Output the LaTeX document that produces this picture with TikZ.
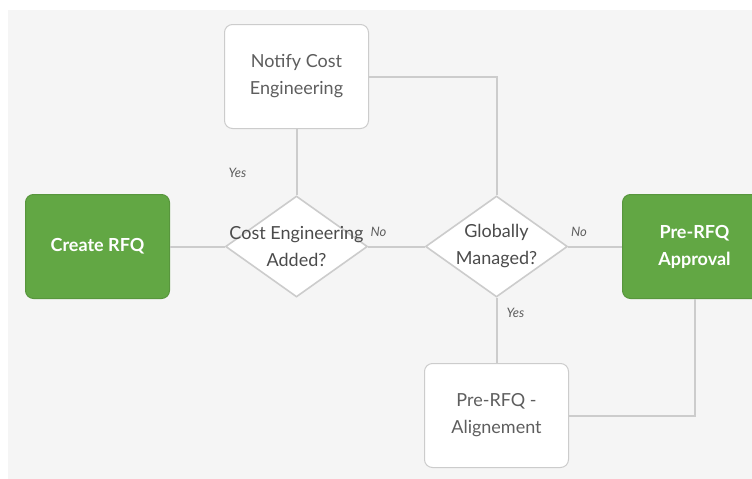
\documentclass[tikz,border=0pt]{standalone}
\usepackage{fontspec}
\setmainfont{Lato}
\usetikzlibrary{shapes,arrows,positioning}
\definecolor{bggray}{HTML}{F5F5F5}
\definecolor{rfqgreen}{HTML}{62A744}
\definecolor{linegray}{HTML}{CCCCCC}
\definecolor{txtgray}{HTML}{5E5E5E}
\tikzstyle{block} = [draw=linegray, line width=1pt, fill=white, rounded corners=8pt, minimum width=144pt, minimum height=104pt, align=center, text=txtgray, font=\fontsize{18}{27}\selectfont]
\tikzstyle{greenblock} = [block, draw=rfqgreen!90!black, fill=rfqgreen, text=white, font=\bfseries\fontsize{18}{27}\selectfont]
\tikzstyle{decision} = [diamond, draw=linegray, line width=1.6pt, fill=white, minimum width=142pt, minimum height=101pt, inner sep=0pt]
\tikzstyle{dtext} = [align=center, text=txtgray!80!black, font=\fontsize{18}{27}\selectfont]
\tikzstyle{lbl} = [font=\itshape\fontsize{13}{15}\selectfont, text=txtgray]
\tikzstyle{line} = [draw=linegray, line width=2pt]

\begin{document}
\begin{tikzpicture}[x=1pt, y=-1pt, node distance=199pt]
    \useasboundingbox (0,0) rectangle (752,479);
    \fill [bggray] (8,10) rectangle (752,479);
 % nodes
    \node [greenblock, name=create] at (97.5,246.5) {Create RFQ};
    \node [decision, right of=create, name=cost] {};
    \node [dtext, name=costtxt] at (cost) {Cost Engineering\\Added?};
    \node [block, above of=cost, node distance=170pt, name=notify] {Notify Cost\\Engineering};
    \node [decision, right of=cost, node distance=200pt, name=global] {};
    \node [dtext, name=globaltxt] at (global) {Globally\\Managed?};
    \node [block, below of=global, node distance=169pt, name=align] {Pre-RFQ -\\Alignement};
    \node [greenblock, right of=global, node distance=198pt, name=approval] {Pre-RFQ\\Approval};
    % edges
    \draw [line] (create) -- (cost);
    \draw [line] (cost) -- node[lbl, pos=0.18, yshift=15pt] {No} (global);
    \draw [line] (global) -- node[lbl, pos=0.2, yshift=15pt] {No} (approval);
    \draw [line] (cost.north) -- node[lbl, pos=0.34, xshift=-59pt] {Yes} (notify);
    \draw [line] (notify.east) -| (global.north);
    \draw [line] (global.south) -- node[lbl, pos=0.23, xshift=19pt] {Yes} (align);
    \draw [line] (align.east) -| (approval.south);

\end{tikzpicture}
\end{document}
